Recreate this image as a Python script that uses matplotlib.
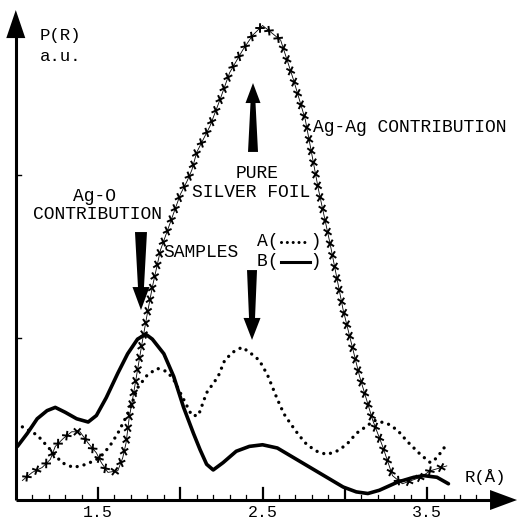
# -*- coding:utf-8 -*-
import numpy as np
import matplotlib
matplotlib.use('Agg')
import matplotlib.pyplot as plt
from matplotlib import patheffects as pe

plt.rcParams['font.family'] = ['Liberation Mono', 'DejaVu Sans Mono']

# sample B (solid)
r_b = [1.01, 1.07, 1.13, 1.19, 1.24, 1.30, 1.37, 1.44, 1.49, 1.55, 1.62, 1.68, 1.74, 1.79,
       1.83, 1.90, 1.96, 2.02, 2.08, 2.12, 2.16, 2.20, 2.26, 2.34, 2.42, 2.50, 2.59, 2.69,
       2.79, 2.89, 2.99, 3.07, 3.14, 3.21, 3.32, 3.42, 3.48, 3.56, 3.63]
p_b = [0.33, 0.41, 0.50, 0.55, 0.57, 0.54, 0.50, 0.48, 0.52, 0.63, 0.78, 0.90, 0.99, 1.02,
       0.99, 0.90, 0.76, 0.57, 0.41, 0.31, 0.22, 0.185, 0.23, 0.30, 0.33, 0.34, 0.32, 0.26,
       0.20, 0.14, 0.08, 0.05, 0.04, 0.06, 0.11, 0.14, 0.15, 0.14, 0.10]

# sample A (dotted)
r_a = [1.04, 1.13, 1.21, 1.28, 1.35, 1.43, 1.51, 1.57, 1.62, 1.69, 1.74, 1.80, 1.86, 1.92,
       1.96, 2.02, 2.07, 2.11, 2.16, 2.23, 2.27, 2.32, 2.375, 2.42, 2.48, 2.53, 2.59, 2.63,
       2.67, 2.72, 2.77, 2.83, 2.89, 2.95, 3.01, 3.07, 3.14, 3.18, 3.26, 3.32, 3.38, 3.46,
       3.52, 3.56, 3.61]
p_a = [0.45, 0.40, 0.31, 0.23, 0.20, 0.22, 0.26, 0.33, 0.41, 0.55, 0.69, 0.77, 0.81, 0.79,
       0.74, 0.62, 0.52, 0.52, 0.66, 0.76, 0.86, 0.91, 0.94, 0.91, 0.86, 0.77, 0.62, 0.53,
       0.47, 0.40, 0.34, 0.30, 0.28, 0.30, 0.34, 0.41, 0.46, 0.49, 0.47, 0.43, 0.36, 0.28,
       0.23, 0.26, 0.33]

# pure silver foil (crosses)
r_ag = [1.04, 1.10, 1.16, 1.21, 1.24, 1.29, 1.34, 1.39, 1.44, 1.49, 1.52, 1.56, 1.62, 1.65,
        1.67, 1.69, 1.71, 1.74, 1.77, 1.80, 1.83, 1.88, 1.94, 2.00, 2.04, 2.07, 2.10, 2.18,
        2.24, 2.30, 2.38, 2.44, 2.50, 2.61, 2.69, 2.76, 2.84, 2.91, 2.99, 3.09, 3.17, 3.23,
        3.29, 3.35, 3.46, 3.52, 3.62]
p_ag = [0.12, 0.17, 0.20, 0.25, 0.33, 0.38, 0.42, 0.42, 0.35, 0.29, 0.23, 0.17, 0.18, 0.26,
        0.35, 0.51, 0.62, 0.80, 0.98, 1.15, 1.31, 1.54, 1.71, 1.88, 1.96, 2.03, 2.14, 2.30,
        2.46, 2.63, 2.77, 2.86, 2.92, 2.83, 2.58, 2.34, 1.91, 1.58, 1.17, 0.76, 0.49, 0.33,
        0.15, 0.10, 0.14, 0.18, 0.21]

x_ticks = [1.5, 2.5, 3.5]
y_ticks = [1, 2]

PX_X = 164.5  # pixels per unit
PX_Y = 162.5

fig = plt.figure(figsize=(5.2, 5.2), dpi=100)
ax = fig.add_axes([0, 0, 1, 1])
ax.set_xlim(0.904, 4.065)
ax.set_ylim(-0.123, 3.077)
ax.axis('off')


def arrow(x, y_tail, y_tip, tail_hw, neck_hw, head_hw, head_len, vertical=True):
    # tapered fat arrow, widths in pixels
    d = 1 if y_tip > y_tail else -1
    if vertical:
        hl = head_len / PX_Y
        yb = y_tip - d * hl
        xs = [x - tail_hw / PX_X, x - neck_hw / PX_X, x - head_hw / PX_X, x,
              x + head_hw / PX_X, x + neck_hw / PX_X, x + tail_hw / PX_X]
        ys = [y_tail, yb, yb, y_tip, yb, yb, y_tail]
    else:
        hl = head_len / PX_X
        xb = y_tip - d * hl
        ys = [x - tail_hw / PX_Y, x - neck_hw / PX_Y, x - head_hw / PX_Y, x,
              x + head_hw / PX_Y, x + neck_hw / PX_Y, x + tail_hw / PX_Y]
        xs = [y_tail, xb, xb, y_tip, xb, xb, y_tail]
    ax.fill(xs, ys, color='k', lw=0)


# axes with arrow heads
ax.plot([1.0, 1.0], [0, 2.9], color='k', lw=2.2, solid_capstyle='butt')
ax.plot([1.0, 3.95], [0, 0], color='k', lw=2.2, solid_capstyle='butt')
arrow(1.0, 2.80, 3.015, 0, 0, 9.5, 28)
arrow(0.0, 3.85, 4.047, 0, 0, 10, 27, vertical=False)

for i in range(1, 30):
    r = 1.0 + i * 0.1
    major = i % 5 == 0
    ax.plot([r, r], [0, (12 if major else 5) / PX_Y], color='k',
            lw=1.6 if major else 0.9)
for v in y_ticks:
    ax.plot([1.0, 1.0 + 5 / PX_X], [v, v], color='k', lw=1.0)
for t in x_ticks:
    ax.text(t, -0.074, str(t), ha='center', va='center', fontsize=12)

# curves
ax.plot(r_b, p_b, color='k', lw=2.6, solid_joinstyle='round', solid_capstyle='round')
ax.plot(r_a, p_a, color='k', lw=2.4, linestyle=(0, (0.01, 2.1)), dash_capstyle='round')
ag = ax.plot(r_ag, p_ag, color='k', lw=0.6)[0]
tick_kw = dict(spacing=8.5, length=0.32, linewidth=1.4)
ag.set_path_effects([pe.Normal(),
                     pe.TickedStroke(angle=45, **tick_kw),
                     pe.TickedStroke(angle=-135, **tick_kw),
                     pe.TickedStroke(angle=135, **tick_kw),
                     pe.TickedStroke(angle=-45, **tick_kw)])

# annotation arrows
arrow(1.761, 1.649, 1.169, 6, 3, 8.5, 23)
arrow(2.436, 1.415, 0.985, 5, 3, 8.5, 22)
arrow(2.442, 2.142, 2.566, 5, 2.5, 7.5, 20)

fs = 13
ax.text(1.147, 2.86, 'P(R)', ha='left', va='center', fontsize=12.5)
ax.text(1.147, 2.73, 'a.u.', ha='left', va='center', fontsize=12.5)
ax.text(2.807, 2.29, 'Ag-Ag CONTRIBUTION', ha='left', va='center', fontsize=fs)
ax.text(2.467, 2.01, 'PURE', ha='center', va='center', fontsize=fs)
ax.text(2.43, 1.89, 'SILVER FOIL', ha='center', va='center', fontsize=fs)
ax.text(1.48, 1.865, 'Ag-O', ha='center', va='center', fontsize=fs)
ax.text(1.497, 1.754, 'CONTRIBUTION', ha='center', va='center', fontsize=fs)
ax.text(1.895, 1.526, 'SAMPLES', ha='left', va='center', fontsize=fs)
ax.text(2.467, 1.588, 'A(   )', ha='left', va='center', fontsize=fs)
ax.text(2.467, 1.465, 'B(   )', ha='left', va='center', fontsize=fs)
ax.plot([2.61, 2.79], [1.588, 1.588], color='k', lw=2.2, linestyle=(0, (0.01, 1.9)),
        dash_capstyle='round')
ax.plot([2.61, 2.79], [1.465, 1.465], color='k', lw=2.2)
ax.text(3.73, 0.142, 'R(Å)', ha='left', va='center', fontsize=12.5)

plt.savefig('out.png', dpi=100)
